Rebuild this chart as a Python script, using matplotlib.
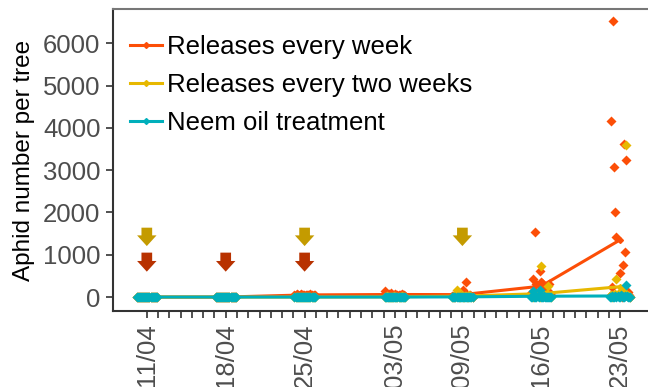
import numpy as np
import matplotlib
matplotlib.use("Agg")
import matplotlib.pyplot as plt

plt.rcParams['font.family'] = ['Liberation Sans', 'DejaVu Sans']

# sampling dates (days since 11/04) and labels
dates = [0, 7, 14, 22, 28, 35, 42]
date_labels = ["11/04", "18/04", "25/04", "03/05", "09/05", "16/05", "23/05"]

# aphids per tree, 20 trees per date, listed left to right as drawn
weekly = [
    [0] * 20,
    [0] * 20,
    [40, 60, 80, 50, 30, 60, 70, 40, 50, 60, 30, 50, 40, 60, 50, 70, 40, 30, 50, 40],
    [140, 60, 80, 50, 70, 60, 90, 40, 60, 50, 70, 40, 60, 50, 40, 60, 70, 50, 40, 30],
    [20, 30, 10, 40, 20, 50, 30, 40, 60, 80, 165, 40, 30, 355, 60, 20, 30, 40, 20, 10],
    [100, 50, 430, 150, 1540, 300, 120, 80, 610, 350, 330, 180, 90, 150, 60, 120, 40, 300, 100, 60],
    [30, 4160, 240, 6525, 3075, 2010, 1420, 50, 20, 570, 80, 10, 760, 3617, 1060, 3240, 20, 120, 40, 10],
]
biweekly = [
    [0] * 20,
    [0] * 20,
    [0] * 20,
    [10, 0, 20, 0, 10, 0, 0, 10, 0, 20, 0, 10, 0, 0, 10, 0, 20, 0, 0, 10],
    [0, 10, 20, 0, 165, 30, 10, 0, 20, 40, 10, 0, 30, 20, 10, 0, 40, 20, 10, 0],
    [20, 40, 10, 60, 30, 50, 20, 40, 10, 730, 60, 30, 20, 40, 60, 80, 260, 30, 20, 10],
    [20, 40, 10, 60, 30, 80, 430, 40, 100, 20, 60, 30, 150, 80, 40, 3590, 60, 30, 20, 10],
]
neem = [
    [0] * 20,
    [0] * 20,
    [0] * 20,
    [0] * 20,
    [0, 10, 0, 0, 10, 0, 0, 10, 0, 0, 10, 0, 0, 10, 0, 0, 10, 0, 0, 10],
    [0, 10, 140, 0, 10, 0, 20, 0, 165, 0, 10, 0, 20, 0, 10, 0, 0, 10, 0, 0],
    [10, 0, 20, 0, 10, 30, 0, 20, 10, 0, 40, 20, 0, 10, 30, 280, 20, 0, 10, 0],
]

series = [
    ("Releases every week", weekly, "#FC4E07"),
    ("Releases every two weeks", biweekly, "#E7B800"),
    ("Neem oil treatment", neem, "#00AFBB"),
]

# release days (arrows)
release_biweekly = [0, 14, 28]
release_weekly = [0, 7, 14]

fig = plt.figure(figsize=(6.48, 3.87), dpi=100)
ax = fig.add_axes([113 / 648, 76 / 387, 541 / 648, 302 / 387])

for name, vals, col in series:
    for d, v in zip(dates, vals):
        off = np.linspace(-0.9, 0.9, len(v))
        ax.plot(d + off, v, linestyle="none", marker="D", ms=4.8, color=col,
                mec="none")
    means = [np.mean(v) for v in vals]
    ax.plot(dates, means, color=col, lw=2.2, marker="D", ms=3, label=name)

arrow_style = "simple,head_length=0.55,head_width=1.0,tail_width=0.55"
for d in release_biweekly:
    ax.annotate("", xy=(d, 1205), xytext=(d, 1640),
                arrowprops=dict(arrowstyle=arrow_style, color="#C49B00",
                                mutation_scale=14, lw=0, shrinkA=0, shrinkB=0))
for d in release_weekly:
    ax.annotate("", xy=(d, 600), xytext=(d, 1050),
                arrowprops=dict(arrowstyle=arrow_style, color="#B83200",
                                mutation_scale=14, lw=0, shrinkA=0, shrinkB=0))

ax.set_xlim(-3, 45)
ax.set_ylim(-330, 6810)
ax.set_xticks(dates)
ax.set_xticklabels(date_labels, rotation=90)
ax.set_xticks(range(0, 43), minor=True)
ax.set_yticks(range(0, 7000, 1000))

ax.tick_params(axis="both", which="major", length=5, width=1.2, colors="#333333",
               labelcolor="#4D4D4D", labelsize=18.5, pad=4)
ax.tick_params(axis="x", which="minor", length=5, width=1.2, colors="#333333")

for s in ["left", "bottom"]:
    ax.spines[s].set_color("#333333")
    ax.spines[s].set_linewidth(1.5)
ax.spines["top"].set_color("#777777")
ax.spines["top"].set_linewidth(1.5)
ax.spines["right"].set_visible(False)

ax.set_ylabel("Aphid number per tree", fontsize=17.5, color="black", labelpad=6)

ax.legend(loc="upper left", bbox_to_anchor=(0.031, 0.915), frameon=False,
          fontsize=18.5, handlelength=1.25, handletextpad=0.2, labelspacing=0.55,
          borderpad=0, borderaxespad=0, numpoints=1)

fig.savefig("out.png", dpi=100)
